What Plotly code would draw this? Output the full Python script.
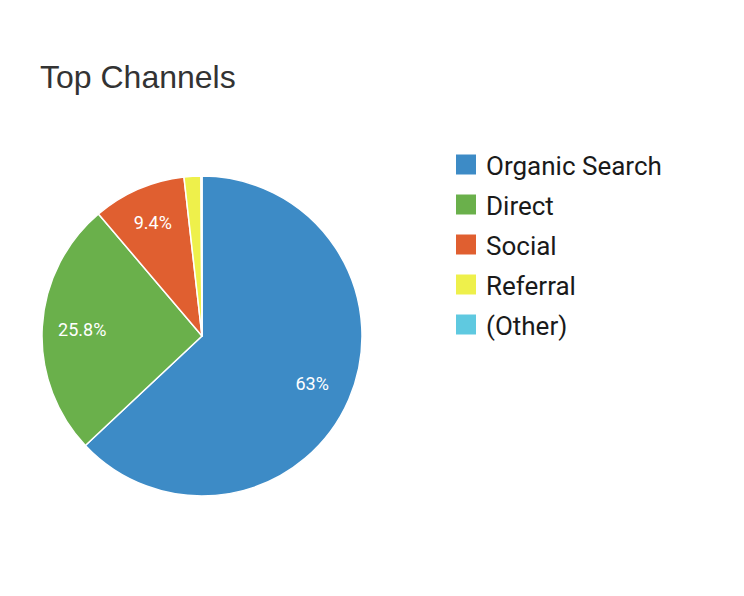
import plotly.graph_objects as go

# Channel shares (percent of sessions)
channels = ['Organic Search', 'Direct', 'Social', 'Referral', '(Other)']
shares = [63.0, 25.8, 9.4, 1.7, 0.1]
colors = ['#3d8bc6', '#6ab04b', '#e05f30', '#eef04b', '#5fc9e0']
# only the bigger slices get a label inside
labels_shown = ['%{percent}', '%{percent}', '%{percent}', '', '']

W, H = 744, 596
# pie box in pixels (left, top, size)
pie_left, pie_top, pie_size = 34, 168, 320
pie_domain = dict(x=[pie_left / W, (pie_left + pie_size) / W],
                  y=[1 - (pie_top + pie_size) / H, 1 - pie_top / H])

fig = go.Figure()

# the pie itself
fig.add_trace(go.Pie(
    labels=channels,
    values=shares,
    sort=False,
    direction='clockwise',
    rotation=0,
    marker=dict(colors=colors, line=dict(color='white', width=1.5)),
    textinfo='none',
    hoverinfo='label+percent',
    showlegend=False,
    domain=pie_domain,
))

# transparent ring on top, only used to put the percent labels at ~3/4 radius
fig.add_trace(go.Pie(
    labels=channels,
    values=shares,
    sort=False,
    direction='clockwise',
    rotation=0,
    hole=0.5,
    marker=dict(colors=['rgba(0,0,0,0)'] * len(channels), line=dict(width=0)),
    texttemplate=labels_shown,
    textposition='inside',
    insidetextorientation='horizontal',
    textfont=dict(family='Roboto, Arial', size=18, color='white'),
    hoverinfo='skip',
    showlegend=False,
    domain=pie_domain,
))

# legend drawn by hand: 20px squares, 40px row spacing
leg_x, leg_y0, row_gap, box = 448, 156.5, 40, 20
shapes = []
annotations = []
for i, (name, col) in enumerate(zip(channels, colors)):
    cy = leg_y0 + i * row_gap
    shapes.append(dict(
        type='rect', xref='paper', yref='paper',
        x0=leg_x / W, x1=(leg_x + box) / W,
        y0=1 - (cy + box / 2) / H, y1=1 - (cy - box / 2) / H,
        fillcolor=col, line=dict(width=0),
    ))
    annotations.append(dict(
        text=name, xref='paper', yref='paper',
        x=(leg_x + box + 8) / W, y=1 - (cy + 1) / H,
        xanchor='left', yanchor='middle', showarrow=False,
        font=dict(family='Roboto', size=26, color='#1a1a1a'),
    ))

fig.update_layout(
    width=W,
    height=H,
    margin=dict(l=0, r=0, t=0, b=0),
    paper_bgcolor='white',
    plot_bgcolor='white',
    title=dict(
        text='Top Channels',
        font=dict(family='Liberation Sans, Arial', size=32, color='#333333'),
        x=32 / W, xanchor='left',
        y=1 - 69 / H, yanchor='middle',
    ),
    shapes=shapes,
    annotations=annotations,
)

fig.write_html("out.html")
